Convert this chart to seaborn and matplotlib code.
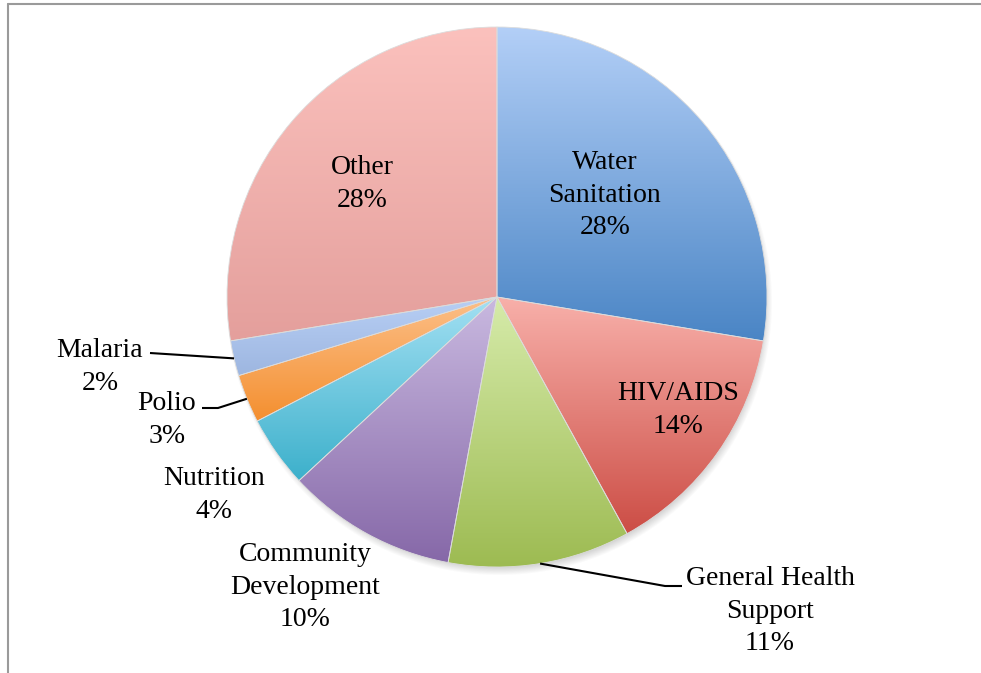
import numpy as np
import matplotlib
matplotlib.use("Agg")
import matplotlib.pyplot as plt
import seaborn as sns

# ---------------- data ----------------
categories = ["Water\nSanitation", "HIV/AIDS", "General Health\nSupport",
              "Community\nDevelopment", "Nutrition", "Polio", "Malaria", "Other"]
shares = [27.6, 14.4, 10.9, 10.2, 4.3, 2.9, 2.1, 27.6]
top_colors = ["#b3cff7", "#f8b0aa", "#d6ebaa", "#c9b9e0", "#a3e0f3", "#fcc08a", "#b8cff5", "#fbc1bd"]
bottom_colors = ["#4a85c5", "#cc4d45", "#9dbb52", "#8668a8", "#3cb0cb", "#f48f2f", "#9db6e0", "#e49f9c"]

# label layout (pixel positions, y from top)
label_pos = [(605, 195), (678, 410), (770, 611), (305, 587),
             (214, 495), (167, 420), (100, 367), (362, 184)]
leader_via = {2: [(665, 586), (682, 586)],
              5: [(218, 408), (202, 408)],
              6: [(150, 353)]}

sns.set_theme(style="white")
plt.rcParams['font.family'] = ['Liberation Serif', 'DejaVu Serif']

W, H = 981, 673
fig = plt.figure(figsize=(W / 100, H / 100), dpi=100)
fig.patch.set_facecolor("white")
ax = fig.add_axes([0, 0, 1, 1])

cx, cy, R = 497, H - 297, 270

# soft shadow below the pie
yy, xx = np.mgrid[0:H, 0:W]
d = np.hypot(xx - (cx + 2), (H - yy) - (cy - 5))
alpha = np.clip((R + 3 - d) / 10.0, 0, 1) * 0.30
shadow = np.zeros((H, W, 4))
shadow[..., :3] = 0.35
shadow[..., 3] = alpha
ax.imshow(shadow, extent=(0, W, 0, H), origin="upper", zorder=0.2, interpolation="bilinear")

wedges, _ = ax.pie(shares, startangle=90, counterclock=False, center=(cx, cy),
                   radius=R, frame=True,
                   wedgeprops=dict(linewidth=0.6, edgecolor="#dcdcdc", facecolor="none"))

grad = np.linspace(0, 1, 256).reshape(-1, 1)
for w, c0, c1 in zip(wedges, top_colors, bottom_colors):
    w.set_facecolor("none")
    w.set_zorder(2)
    ext = w.get_path().get_extents()
    cmap = sns.blend_palette([c0, c1], as_cmap=True)
    im = ax.imshow(grad, cmap=cmap, extent=(ext.x0, ext.x1, ext.y0, ext.y1),
                   origin="upper", aspect="auto", zorder=1, interpolation="bilinear")
    im.set_clip_path(w)

for i, (cat, s, (px, py)) in enumerate(zip(categories, shares, label_pos)):
    ax.text(px, H - py, f"{cat}\n{round(s)}%", ha="center", va="center",
            multialignment="center", fontsize=20, linespacing=1.38, color="black", zorder=5)
    if i in leader_via:
        w = wedges[i]
        mid = np.deg2rad((w.theta1 + w.theta2) / 2)
        rim = (cx + R * np.cos(mid), cy + R * np.sin(mid))
        pts = [rim] + [(x, H - y) for x, y in leader_via[i]]
        xs, ys = zip(*pts)
        ax.plot(xs, ys, color="black", lw=1.5, zorder=4, solid_capstyle="butt")

ax.set_xlim(0, W)
ax.set_ylim(0, H)
ax.set_aspect("equal")
ax.axis("off")

# outer frame (gray border, left and top visible)
fig.add_artist(plt.Line2D([7.5 / W, 7.5 / W], [0, 1 - 3.5 / H], color="#9a9a9a", lw=1.5,
                          transform=fig.transFigure))
fig.add_artist(plt.Line2D([7.5 / W, 1], [1 - 3.5 / H, 1 - 3.5 / H], color="#9a9a9a", lw=1.5,
                          transform=fig.transFigure))

fig.savefig("out.png", dpi=100)
